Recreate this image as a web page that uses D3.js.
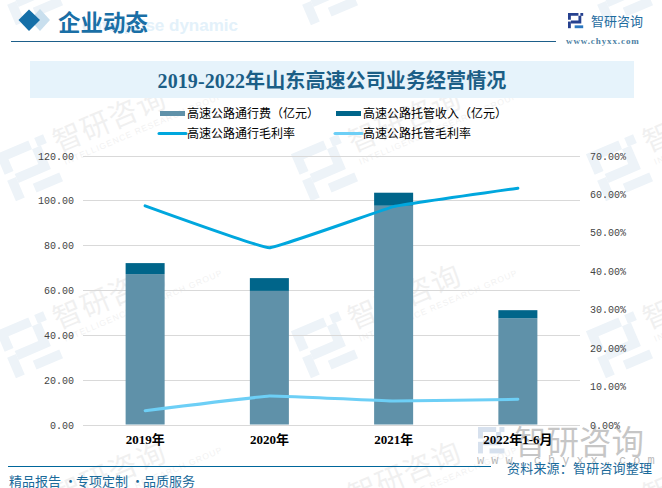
<!DOCTYPE html>
<html><head><meta charset="utf-8">
<style>html,body{margin:0;padding:0;background:#fff}svg{display:block}</style>
<script src="https://cdn.jsdelivr.net/npm/d3@7"></script></head>
<body><svg id="c" width="662" height="488"></svg>
<script>
const categories = ["2019年","2020年","2021年","2022年1-6月"];
const tollRevenue = [67.1,59.6,97.6,47.4];
const managedRevenue = [4.9,5.7,5.8,3.6];
const tollMargin = [56.9,46.0,56.7,61.5];
const managedMargin = [3.6,7.4,6.1,6.55];
const leftTicks = [0,20,40,60,80,100,120];
const rightTicks = [0,10,20,30,40,50,60,70];
const legendNames = ["高速公路通行费（亿元）","高速公路托管收入（亿元）","高速公路通行毛利率","高速公路托管毛利率"];
const title = "2019-2022年山东高速公司业务经营情况";
const slogans = ["精品报告","专项定制","品质服务"];

const C = {bar1:"#5f91a9",bar2:"#00658a",line1:"#00a7de",line2:"#6dcff6",grid:"#d9d9d9"};
const CJK = '"Noto Sans CJK SC","Noto Sans",sans-serif';
const SERIF = '"Liberation Serif","Noto Sans CJK SC",serif';
const MONO = '"Liberation Mono","Noto Sans CJK SC",monospace';
const svg = d3.select("#c");

function logo(g, s, col, col2){
  const paths = ["M0 0H11V3H3V7H0Z","M13 0H16V3H13Z","M3 8H11V3H14V11H3Z","M0 9H3V16H0Z"];
  g.selectAll("path.a").data(paths).join("path").attr("d",d=>d).attr("fill",col).attr("transform",`scale(${s})`);
  g.append("path").attr("d","M7 13H16V16H7Z").attr("fill",col2).attr("transform",`scale(${s})`);
}

// watermark tiles
const wmX=[30,325,620], wmY=[-8,168,345,522];
const wm = svg.append("g");
wmY.forEach(y=>wmX.forEach(x=>{
  const g = wm.append("g").attr("transform",`translate(${x},${y}) rotate(-23)`);
  const l = g.append("g").attr("transform","translate(-26,-26)");
  logo(l,3.2,"#edf3f8","#edf3f8");
  g.append("text").attr("x",32).attr("y",-3).attr("font-family",CJK).attr("font-size",29).attr("letter-spacing",1)
    .attr("fill","#000").attr("opacity",0.055).text("智研咨询");
  g.append("text").attr("x",34).attr("y",11).attr("font-family",'"Liberation Sans",sans-serif').attr("font-size",8.5).attr("letter-spacing",1)
    .attr("fill","#000").attr("opacity",0.05).text("INTELLIGENCE RESEARCH GROUP");
}));

// header
svg.append("text").attr("x",238).attr("y",31).attr("text-anchor","end").attr("font-family",'"Liberation Sans",sans-serif')
  .attr("font-weight",700).attr("font-size",17).attr("fill","#e3f1fa").text("enterprise dynamic");
svg.append("path").attr("d","M40 9L50 20L40 31L30 20Z").attr("fill","#c9dfee");
svg.append("path").attr("d","M29 9.5L40 20L29 31L18.5 20Z").attr("fill","#156fa8");
svg.append("text").attr("x",58).attr("y",30.5).attr("font-family",'"Noto Sans CJK SC",sans-serif').attr("font-weight",700)
  .attr("font-size",22.5).attr("fill","#1a6fa6").text("企业动态");
svg.append("line").attr("x1",11).attr("x2",556).attr("y1",41.5).attr("y2",41.5).attr("stroke","#1d5f8a").attr("stroke-width",1);
logo(svg.append("g").attr("transform","translate(568,13)"),0.95,"#26418f","#2b78c0");
svg.append("text").attr("x",591).attr("y",26).attr("font-family",CJK).attr("font-size",13).attr("fill","#1f6c9f").text("智研咨询");
svg.append("text").attr("x",566).attr("y",44).attr("font-family",SERIF).attr("font-weight",700).attr("font-size",9).attr("letter-spacing",0.9).attr("fill","#4d7fa3").text("www.chyxx.com");

// title band
svg.append("rect").attr("x",30).attr("y",61).attr("width",604).attr("height",37).attr("fill","#e6f3fb");
svg.append("text").attr("x",332).attr("y",88).attr("text-anchor","middle").attr("font-family",SERIF)
  .attr("font-weight",700).attr("font-size",20).attr("letter-spacing",0.1).attr("fill","#1b5e86").text(title);

// big bottom-right watermark
logo(svg.append("g").attr("transform","translate(478,427)").attr("opacity",0.4),1.65,"#9cb6d6","#9cb6d6");
svg.append("text").attr("x",514).attr("y",454).attr("font-family",CJK).attr("font-size",32.5).attr("fill","#000").attr("opacity",0.22).text("智研咨询");
svg.append("text").attr("x",477).attr("y",464).attr("font-family",MONO).attr("font-size",12).attr("letter-spacing",7).attr("fill","#000").attr("opacity",0.28).text("www.chyxx.com");

// scales
const x = d3.scaleBand().domain(categories).range([83,580]).paddingInner(0.686).paddingOuter(0.343);
const yL = d3.scaleLinear().domain([0,120]).range([424.5,155.5]);
const yR = d3.scaleLinear().domain([0,70]).range([424.5,155.5]);

// grid
svg.append("g").selectAll("line").data(leftTicks).join("line")
  .attr("x1",83).attr("x2",580).attr("y1",d=>Math.round(yL(d))+.5).attr("y2",d=>Math.round(yL(d))+.5)
  .attr("stroke",C.grid).attr("stroke-width",1);

// bars
svg.append("g").selectAll("rect").data(categories).join("rect")
  .attr("x",d=>x(d)).attr("width",x.bandwidth())
  .attr("y",(d,i)=>yL(tollRevenue[i])).attr("height",(d,i)=>yL(0)-yL(tollRevenue[i])).attr("fill",C.bar1);
svg.append("g").selectAll("rect").data(categories).join("rect")
  .attr("x",d=>x(d)).attr("width",x.bandwidth())
  .attr("y",(d,i)=>yL(tollRevenue[i]+managedRevenue[i])).attr("height",(d,i)=>yL(tollRevenue[i])-yL(tollRevenue[i]+managedRevenue[i])).attr("fill",C.bar2);

// lines
const cx = d=>x(d)+x.bandwidth()/2;
const line = d3.line().x((d,i)=>cx(categories[i])).y(d=>yR(d)).curve(d3.curveCardinal.tension(0.8));
[[tollMargin,C.line1],[managedMargin,C.line2]].forEach(([s,c])=>{
  svg.append("path").attr("d",line(s)).attr("fill","none").attr("stroke",c).attr("stroke-width",3).attr("stroke-linecap","round");
});

// axes
const axL = svg.append("g").attr("transform","translate(83,0)").call(d3.axisLeft(yL).tickValues(leftTicks).tickFormat(d3.format(".2f")).tickSize(0).tickPadding(9));
axL.select(".domain").remove();
axL.selectAll("text").attr("font-family",MONO).attr("font-size",10).attr("fill","#444").attr("dy","0.36em");
const axR = svg.append("g").attr("transform","translate(580,0)").call(d3.axisRight(yR).tickValues(rightTicks).tickFormat(d=>d3.format(".2f")(d)+"%").tickSize(0).tickPadding(10));
axR.select(".domain").remove();
axR.selectAll("text").attr("font-family",MONO).attr("font-size",10).attr("fill","#444").attr("dy","0.36em");
const axB = svg.append("g").attr("transform","translate(0,424.5)").call(d3.axisBottom(x).tickSize(0).tickPadding(10));
axB.select(".domain").remove();
axB.selectAll("text").attr("font-family",SERIF).attr("font-weight",700).attr("font-size",13).attr("fill","#000");

// legend
const lg = [[160,113.5,"rect",C.bar1,187],[336,113.5,"rect",C.bar2,363],[158,133.5,"line",C.line1,187],[334,133.5,"line",C.line2,363]];
lg.forEach((l,i)=>{
  if(l[2]==="rect") svg.append("rect").attr("x",l[0]).attr("y",l[1]-2.5).attr("width",25).attr("height",5).attr("fill",l[3]);
  else svg.append("line").attr("x1",l[0]+1).attr("x2",l[0]+28).attr("y1",l[1]).attr("y2",l[1]).attr("stroke",l[3]).attr("stroke-width",3).attr("stroke-linecap","round");
  svg.append("text").attr("x",l[4]).attr("y",l[1]+4.5).attr("font-family",CJK).attr("font-size",12).attr("fill","#000").text(legendNames[i]);
});

// footer
svg.append("line").attr("x1",8).attr("x2",491).attr("y1",466.5).attr("y2",466.5).attr("stroke","#00669b").attr("stroke-width",1);
slogans.forEach((t,i)=>{
  svg.append("text").attr("x",9+i*67).attr("y",486).attr("font-family",CJK).attr("font-size",13).attr("fill","#1a6a9a").text(t);
  if(i<2) svg.append("text").attr("x",64+i*67).attr("y",486).attr("font-family",CJK).attr("font-size",13).attr("fill","#1a6a9a").text("·");
});
svg.append("text").attr("x",507).attr("y",473).attr("font-family",CJK).attr("font-size",13).attr("letter-spacing",.2).attr("fill","#1a6a9a").text("资料来源：智研咨询整理");
</script></body></html>
